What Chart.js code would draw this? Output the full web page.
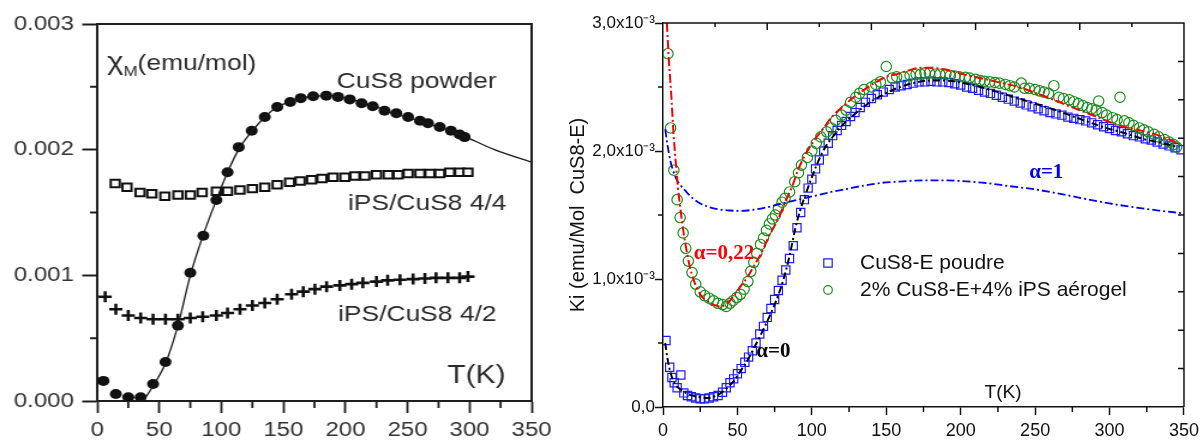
<!DOCTYPE html>
<html><head><meta charset="utf-8">
<script src="https://cdn.jsdelivr.net/npm/chart.js@4.4.0/dist/chart.umd.min.js"></script>
<style>
html,body{margin:0;padding:0;background:#fff;width:1204px;height:442px;overflow:hidden}
#lw{position:absolute;left:0;top:0;width:467px;height:442px;transform:scaleX(1.2);transform-origin:0 0}
#rw{position:absolute;left:560px;top:0;width:644px;height:442px}
canvas{display:block}
</style></head><body>
<div id="lw"><canvas id="cl" width="467" height="442"></canvas></div>
<div id="rw"><canvas id="cr" width="644" height="442"></canvas></div>
<script>
// ---------- LEFT PANEL DATA (chi_M in emu/mol, T in K) ----------
const L_POWDER_T   = [5,15,25,35,45,55,65,75,85.5,96,105,114,124.5,135,145,155.5,164,174,184.5,194,203.5,213,222,231.5,241,250.5,260,266.5,276,285,292,296];
const L_POWDER_CHI = [0.00016,0.000056,0.00003,0.00003,0.000135,0.00031,0.0006,0.00102,0.001315,0.0016,0.00182,0.00202,0.00215,0.00226,0.00234,0.00238,0.00241,0.002425,0.00243,0.00242,0.0024,0.00237,0.002345,0.00231,0.00229,0.00226,0.00223,0.00221,0.00218,0.00215,0.00212,0.0021];
const L_FIT_T   = [37,45,55,65,75,85,96,105,115,125,135,145,155,165,175,185,195,205,215,225,235,245,255,265,275,285,295,320,350];
const L_FIT_CHI = [0,0.00012,0.0003,0.0006,0.001,0.00131,0.0016,0.00182,0.00202,0.00215,0.00226,0.00234,0.00238,0.00241,0.002425,0.00243,0.00242,0.0024,0.00237,0.00234,0.0023,0.00227,0.00224,0.00221,0.00218,0.00215,0.00211,0.002,0.0019];
const L_44_T   = [14.5,24,34.5,44,54.5,65,75,84.5,96,105,115,125,135,145,155,163.5,172.7,181,190,199.5,207.6,215.6,225,234.4,242.4,250.5,260,268,276,284,292,298.7];
const L_44_CHI = [0.00173,0.0017,0.00166,0.00165,0.00163,0.00164,0.00164,0.00166,0.00167,0.00167,0.00168,0.00169,0.0017,0.00172,0.00174,0.00175,0.00176,0.00177,0.00178,0.00178,0.00179,0.00179,0.0018,0.0018,0.0018,0.00181,0.00181,0.00181,0.00181,0.00182,0.00182,0.00182];
const L_42_T   = [6.4,15,25,35,45,55,65,75,85,96,105,115,125,135,145,156.6,166,175.4,184.8,195.5,205,214,225,234,244,254.5,264,273,282.6,292,298.7];
const L_42_CHI = [0.00083,0.00073,0.00068,0.00066,0.00065,0.00065,0.00065,0.00066,0.00067,0.00068,0.0007,0.00073,0.00076,0.00078,0.00081,0.00085,0.00087,0.00089,0.00091,0.00092,0.00093,0.00094,0.00095,0.00096,0.000965,0.00097,0.000975,0.00098,0.00098,0.00098,0.00099];
const L_X_TICKS = [0,50,100,150,200,250,300,350];
const L_Y_TICKS = ['0.000','0.001','0.002','0.003'];

// ---------- RIGHT PANEL DATA (Ki in units of 1e-3 emu/Mol, T in K) ----------
const R_POUDRE_T = [2,4.5,6,7.5,9.5,12,14,16.5,19,22,25,28,31,34,37,40,42.5,45,47.5,50,52.5,55,57.5,60,62.5,65,67.5,70,72.5,75,77.5,80,82.5,85,87.5,90,92.5,95,97.5,100,102.5,105,108,111,114,117,120,123,126,129,132.5,136,140,144,148,152,156,160,164,168,172,176,180,184,188,192,196,200,204,208,212,216,220,224,228,232,236,240,244,248,252,256,260,264,268,272,276,280,284,288,292,296,300,304,308,312,316,320,324,328,332,336,340,344,348];
const R_POUDRE_V = [0.52,0.31,0.23,0.19,0.15,0.25,0.11,0.09,0.08,0.07,0.065,0.065,0.07,0.08,0.09,0.115,0.15,0.19,0.22,0.26,0.3,0.35,0.39,0.44,0.5,0.57,0.63,0.7,0.77,0.84,0.91,0.99,1.07,1.16,1.26,1.4,1.52,1.62,1.71,1.78,1.86,1.93,2.0,2.06,2.12,2.16,2.2,2.23,2.27,2.3,2.34,2.38,2.41,2.44,2.46,2.48,2.5,2.51,2.52,2.53,2.54,2.54,2.545,2.54,2.54,2.535,2.525,2.515,2.5,2.49,2.475,2.46,2.45,2.435,2.42,2.405,2.39,2.375,2.36,2.345,2.33,2.315,2.3,2.29,2.28,2.265,2.255,2.245,2.235,2.22,2.205,2.19,2.175,2.16,2.15,2.135,2.12,2.11,2.095,2.085,2.07,2.055,2.04,2.025,2.01];
const R_AERO_T = [3.3,5.1,7.3,9.5,11.5,13.5,15.3,17,19.5,22,25,28,31,34,37,40,42.5,45,47,49.5,52,54.5,57,59,61,63,65.5,67.5,69.5,71.5,73.5,75.5,77.5,80,82,85,88.5,91,93,97,100,103,106,110,113,116,120,123,126,129.5,132,135,140,143,146,150,154,157,162,166,170,173,176,179,183,186,190,193,196,199,203,206,210,213,216,219.5,223,226,230,233,236,240.7,243,246,250,253,256,259,262.6,266,269,273,276,279,282,285,288,291,292.7,295,298,302,305,307,310,313,316,320,323,326,330,333,337,340,343,345];
const R_AERO_V = [2.76,2.18,1.85,1.62,1.48,1.36,1.24,1.14,1.05,0.96,0.9,0.87,0.85,0.83,0.81,0.8,0.785,0.81,0.83,0.855,0.88,0.92,0.98,1.06,1.13,1.2,1.27,1.32,1.38,1.43,1.47,1.5,1.55,1.6,1.63,1.68,1.76,1.83,1.89,1.95,2.0,2.06,2.11,2.15,2.18,2.24,2.28,2.32,2.38,2.42,2.45,2.48,2.5,2.52,2.54,2.66,2.57,2.58,2.58,2.59,2.6,2.6,2.61,2.61,2.6,2.6,2.6,2.59,2.585,2.58,2.575,2.57,2.56,2.55,2.545,2.54,2.535,2.53,2.52,2.51,2.5,2.53,2.49,2.49,2.48,2.47,2.46,2.45,2.51,2.42,2.41,2.4,2.385,2.37,2.355,2.34,2.33,2.32,2.39,2.3,2.28,2.26,2.245,2.42,2.235,2.22,2.2,2.18,2.165,2.15,2.13,2.11,2.09,2.07,2.05,2.03];
const R_FIT022_T = [2.6,4,5.5,7,8.5,10,12,14,16.5,19,22,25,28,32,36,39,42,45,48,52,57,61,66,71,77,82,87,91,96,102,108,113,120,126,134,142,150,157,165,173,180,188,195,205,217,228,239,250,261.5,273,284,295,306,317,328,338,346];
const R_FIT022_V = [3.0,2.7,2.45,2.15,1.92,1.72,1.52,1.35,1.18,1.05,0.95,0.88,0.84,0.81,0.79,0.785,0.8,0.83,0.875,0.94,1.02,1.1,1.2,1.33,1.46,1.6,1.73,1.86,1.98,2.09,2.18,2.26,2.34,2.4,2.47,2.53,2.58,2.6,2.63,2.65,2.65,2.64,2.62,2.59,2.56,2.53,2.5,2.455,2.405,2.35,2.3,2.25,2.2,2.17,2.14,2.1,2.06];
const R_FIT0_T = [1.5,3,5,8,12.7,18,24,30,35,39,44,48,52,57,62,68,72,77,81,85,89,92,97,103.6,109,114.7,122,130,139,148,157,168,179,190,206,222,239,261,278,295,310,324,336,346];
const R_FIT0_V = [0.5,0.38,0.27,0.18,0.13,0.095,0.08,0.07,0.085,0.11,0.16,0.21,0.28,0.37,0.48,0.62,0.72,0.86,1.0,1.18,1.4,1.53,1.7,1.9,2.03,2.12,2.22,2.3,2.38,2.44,2.49,2.53,2.55,2.55,2.52,2.47,2.41,2.33,2.26,2.19,2.14,2.09,2.06,2.03];
const R_FIT1_T = [1.5,3,5,7,9,12,15,20,25,30,37,45,52,60,68,80,90.7,102,113,124,135,146,157,168,179,190,200,217,233,250,267,284,300,317,333,348];
const R_FIT1_V = [2.17,2.05,1.92,1.84,1.78,1.73,1.69,1.63,1.59,1.565,1.545,1.535,1.532,1.54,1.555,1.59,1.62,1.65,1.68,1.705,1.73,1.75,1.76,1.768,1.77,1.77,1.765,1.75,1.725,1.7,1.665,1.625,1.59,1.56,1.535,1.515];
const R_X_TICKS = ['0','50','100','150','200','250','300','350'];
const R_Y_TICKS = ['0,0','1,0x10⁻³','2,0x10⁻³','3,0x10⁻³'];

// ---------- helpers ----------
const SANS = "'Liberation Sans', Arial, Helvetica, sans-serif";
const SERIF = "'Liberation Serif', 'Times New Roman', serif";
const pts = (xs, ys) => xs.map((x, i) => ({x: x, y: ys[i]}));

// ---------- LEFT CHART ----------
const leftDeco = {
  id: 'leftDeco',
  afterDraw(chart) {
    const {ctx, chartArea: a, scales: {x, y}} = chart;
    ctx.save();
    ctx.strokeStyle = '#1e1e1e';
    ctx.lineWidth = 2;
    ctx.beginPath();
    ctx.moveTo(a.left, a.top); ctx.lineTo(a.right, a.top); ctx.lineTo(a.right, a.bottom);
    ctx.stroke();
    ctx.lineWidth = 1.8;
    ctx.beginPath();
    for (let v = 25; v < 350; v += 50) { const px = x.getPixelForValue(v); ctx.moveTo(px, a.bottom); ctx.lineTo(px, a.bottom + 7); }
    ctx.stroke();
    ctx.lineWidth = 2;
    ctx.beginPath();
    for (let v = 0.0005; v < 0.003; v += 0.001) { const py = y.getPixelForValue(v); ctx.moveTo(a.left, py); ctx.lineTo(a.left - 6, py); }
    ctx.stroke();
    // texts
    ctx.fillStyle = '#2a2a2a';
    ctx.textBaseline = 'alphabetic';
    ctx.textAlign = 'left';
    const notes = [
      {t: 'CuS8 powder', x: 193, y: 0.00249, s: 22},
      {t: 'iPS/CuS8 4/4', x: 202, y: 0.00152, s: 22},
      {t: 'iPS/CuS8 4/2', x: 194, y: 0.00064, s: 22},
      {t: 'T(K)', x: 282, y: 0.000143, s: 25}
    ];
    for (const n of notes) {
      ctx.font = n.s + 'px ' + SANS;
      ctx.fillText(n.t, x.getPixelForValue(n.x), y.getPixelForValue(n.y));
    }
    // chi_M (emu/mol)
    let px = x.getPixelForValue(8), py = y.getPixelForValue(0.00263);
    ctx.font = '26px ' + SANS;
    ctx.fillText('χ', px, py);
    px += ctx.measureText('χ').width;
    ctx.font = '14px ' + SANS;
    ctx.fillText('M', px, py + 6);
    px += ctx.measureText('M').width;
    ctx.font = '22px ' + SANS;
    ctx.fillText('(emu/mol)', px, py);
    ctx.restore();
  }
};

new Chart(document.getElementById('cl'), {
  type: 'scatter',
  data: { datasets: [
    { label: 'CuS8 powder fit', data: pts(L_FIT_T, L_FIT_CHI), showLine: true, pointRadius: 0, borderColor: '#1a1a1a', borderWidth: 1.3, cubicInterpolationMode: 'monotone', fill: false },
    { label: 'CuS8 powder', data: pts(L_POWDER_T, L_POWDER_CHI), pointStyle: 'circle', pointRadius: 5, pointBackgroundColor: '#111', pointBorderColor: '#111', pointBorderWidth: 0 },
    { label: 'iPS/CuS8 4/4', data: pts(L_44_T, L_44_CHI), pointStyle: 'rect', pointRadius: 5.3, pointBackgroundColor: '#fff', pointBorderColor: '#111', pointBorderWidth: 2 },
    { label: 'iPS/CuS8 4/2', data: pts(L_42_T, L_42_CHI), pointStyle: 'cross', pointRadius: 5.5, pointBorderColor: '#111', pointBorderWidth: 2.6 }
  ]},
  options: {
    responsive: false, animation: false, devicePixelRatio: 1, events: [],
    layout: { padding: { top: 24, right: 24, left: 0, bottom: 0 } },
    plugins: { legend: { display: false }, tooltip: { enabled: false } },
    scales: {
      x: { type: 'linear', min: 0, max: 350, afterFit: s => { s.height = 41; },
        afterBuildTicks: s => { s.ticks = L_X_TICKS.map(v => ({value: v})); },
        ticks: { autoSkip: false, maxRotation: 0, padding: 5, color: '#333', font: { family: SANS, size: 20 }, callback: v => String(v) },
        grid: { drawOnChartArea: false, drawTicks: true, tickLength: 12, tickWidth: 1.8, tickColor: '#1e1e1e' },
        border: { color: '#1e1e1e', width: 2 } },
      y: { type: 'linear', min: 0, max: 0.003, afterFit: s => { s.width = 81; },
        afterBuildTicks: s => { s.ticks = L_Y_TICKS.map(v => ({value: parseFloat(v)})); },
        ticks: { padding: 7, color: '#333', font: { family: SANS, size: 20 }, callback: v => v.toFixed(3) },
        grid: { drawOnChartArea: false, drawTicks: true, tickLength: 12.5, tickWidth: 2, tickColor: '#1e1e1e' },
        border: { color: '#1e1e1e', width: 2 } }
    }
  },
  plugins: [leftDeco]
});

// ---------- RIGHT CHART ----------
const rightDeco = {
  id: 'rightDeco',
  afterDraw(chart) {
    const {ctx, chartArea: a, scales: {x, y}} = chart;
    ctx.save();
    ctx.strokeStyle = '#111';
    ctx.lineWidth = 1.5;
    ctx.beginPath();
    ctx.moveTo(a.left, a.top); ctx.lineTo(a.right, a.top); ctx.lineTo(a.right, a.bottom);
    ctx.stroke();
    ctx.beginPath();
    const w = a.right - a.left, h = a.bottom - a.top;
    for (let i = 1; i < 10; i++) {
      const tx = a.left + i * w / 10;
      ctx.moveTo(tx, a.top); ctx.lineTo(tx, a.top + (i % 2 === 0 ? 7 : 4));
      const ty = a.top + i * h / 10;
      ctx.moveTo(a.right, ty); ctx.lineTo(a.right - 6, ty);
    }
    for (let v = 25; v < 350; v += 50) { const px = x.getPixelForValue(v); ctx.moveTo(px, a.bottom); ctx.lineTo(px, a.bottom + 5); }
    for (let v = 0.5; v < 3; v += 1) { const py = y.getPixelForValue(v); ctx.moveTo(a.left, py); ctx.lineTo(a.left - 5, py); }
    ctx.stroke();
    // alpha labels
    ctx.textAlign = 'left';
    ctx.textBaseline = 'middle';
    const notes = [
      {t: 'α=0,22', x: 20.7, y: 1.2, c: '#ff0000'},
      {t: 'α=0', x: 62.7, y: 0.43, c: '#000000'},
      {t: 'α=1', x: 246, y: 1.83, c: '#0000ee'}
    ];
    ctx.font = 'bold 21px ' + SERIF;
    for (const n of notes) { ctx.fillStyle = n.c; ctx.fillText(n.t, x.getPixelForValue(n.x), y.getPixelForValue(n.y)); }
    ctx.fillStyle = '#111';
    ctx.font = '19px ' + SANS;
    ctx.fillText('T(K)', x.getPixelForValue(216), y.getPixelForValue(0.11));
    // legend (CuS8-E poudre first)
    const lx = a.left + 165, tx = a.left + 197;
    const items = chart.data.datasets.filter(d => d.inLegend).sort((p, q) => p.legendRank - q.legendRank);
    ctx.font = '21px ' + SANS;
    items.forEach((d, i) => {
      const ly = a.top + 240 + i * 27;
      ctx.strokeStyle = d.pointBorderColor;
      ctx.lineWidth = 1.2;
      ctx.beginPath();
      if (d.pointStyle === 'rect') ctx.rect(lx - 4.2, ly - 4.2, 8.4, 8.4);
      else ctx.arc(lx, ly, 4.3, 0, Math.PI * 2);
      ctx.stroke();
      ctx.fillStyle = '#111';
      ctx.fillText(d.label, tx, ly);
    });
    ctx.restore();
  }
};

new Chart(document.getElementById('cr'), {
  type: 'scatter',
  data: { datasets: [
    { label: 'α=0,22', data: pts(R_FIT022_T, R_FIT022_V), showLine: true, pointRadius: 0, borderColor: '#ff0000', borderWidth: 2, borderDash: [9, 3, 2, 3], cubicInterpolationMode: 'monotone', fill: false },
    { label: 'α=0', data: pts(R_FIT0_T, R_FIT0_V), showLine: true, pointRadius: 0, borderColor: '#000000', borderWidth: 2, borderDash: [7, 3, 2, 3], cubicInterpolationMode: 'monotone', fill: false },
    { label: 'α=1', data: pts(R_FIT1_T, R_FIT1_V), showLine: true, pointRadius: 0, borderColor: '#0000ee', borderWidth: 1.8, borderDash: [8, 3, 2, 3], cubicInterpolationMode: 'monotone', fill: false },
    { label: '2% CuS8-E+4% iPS aérogel', inLegend: true, legendRank: 2, data: pts(R_AERO_T, R_AERO_V), pointStyle: 'circle', pointRadius: 5.2, pointBackgroundColor: 'rgba(0,0,0,0)', pointBorderColor: '#1a8c1a', pointBorderWidth: 1.2 },
    { label: 'CuS8-E poudre', inLegend: true, legendRank: 1, data: pts(R_POUDRE_T, R_POUDRE_V), pointStyle: 'rect', pointRadius: 5.8, pointBackgroundColor: 'rgba(0,0,0,0)', pointBorderColor: '#1a1aff', pointBorderWidth: 1.2 }
  ]},
  options: {
    responsive: false, animation: false, devicePixelRatio: 1, events: [],
    layout: { padding: { top: 23, right: 14.5, left: 0, bottom: 0 } },
    plugins: { legend: { display: false }, tooltip: { enabled: false } },
    scales: {
      x: { type: 'linear', min: 0, max: 350, afterFit: s => { s.height = 35; },
        afterBuildTicks: s => { s.ticks = R_X_TICKS.map(v => ({value: Number(v)})); },
        ticks: { autoSkip: false, maxRotation: 0, padding: 5, color: '#111', font: { family: SANS, size: 18 }, callback: v => String(v) },
        grid: { drawOnChartArea: false, drawTicks: true, tickLength: 8, tickWidth: 1.5, tickColor: '#111' },
        border: { color: '#111', width: 1.5 } },
      y: { type: 'linear', min: 0, max: 3, afterFit: s => { s.width = 103; },
        afterBuildTicks: s => { s.ticks = R_Y_TICKS.map((v, i) => ({value: i})); },
        ticks: { padding: 0, color: '#111', font: { family: SANS, size: 17 }, callback: (v, i) => R_Y_TICKS[i] },
        title: { display: true, text: 'Ki (emu/Mol  CuS8-E)', color: '#111', font: { family: SANS, size: 20 }, padding: { top: 6, bottom: 0 } },
        grid: { drawOnChartArea: false, drawTicks: true, tickLength: 8, tickWidth: 1.5, tickColor: '#111' },
        border: { color: '#111', width: 1.5 } }
    }
  },
  plugins: [rightDeco]
});
</script>
</body></html>
